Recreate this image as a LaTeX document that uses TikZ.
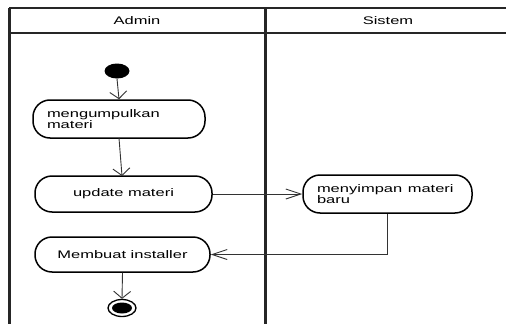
\documentclass[tikz,border=0pt]{standalone}
\usepackage{fontspec}
\setmainfont{Liberation Sans}
\usetikzlibrary{arrows.meta,shapes.geometric}
\newcommand{\wide}[1]{\scalebox{1.5}[1]{#1}}
\tikzset{
  lane/.style={line width=3pt, black!85},
  rule/.style={line width=1.9pt, black!85},
  action/.style={draw, line width=1.5pt, rounded corners=17pt, fill=white,
    font=\fontsize{11}{11.5}\selectfont, inner sep=0pt},
  flowv/.style={line width=0.9pt, black!80, -{Straight Barb[length=7pt,width=17pt,line width=0.9pt]}},
  flowh/.style={line width=0.9pt, black!80, -{Straight Barb[length=15pt,width=10pt,line width=0.9pt]}},
  lanetitle/.style={font=\fontsize{11}{13}\selectfont}
}
\begin{document}
\begin{tikzpicture}[x=1pt,y=-1pt]
\useasboundingbox (0,0) rectangle (506,324);
\fill[white] (0,0) rectangle (506,324);

% swimlane frame
\coordinate (tl) at (9,8);
\coordinate (tr) at (506,8);
\coordinate (hl) at (9,33);
\coordinate (hr) at (506,33);
\coordinate (bl) at (9,324);
\coordinate (dt) at (265,8);
\coordinate (db) at (265,324);
\draw[rule] (tl) -- (tr);
\draw[rule] (hl) -- (hr);
\draw[lane] (tl) -- (bl);
\draw[lane] (dt) -- (db);

\node[lanetitle] (admin) at (137,21) {\wide{Admin}};
\node[lanetitle] (sistem) at (388,21) {\wide{Sistem}};

% initial and final states
\node[ellipse, fill=black, minimum width=25pt, minimum height=15pt, inner sep=0pt] (start) at (117,71) {};
\node[ellipse, draw, line width=1.3pt, minimum width=28pt, minimum height=17pt, inner sep=0pt] (finish) at (122,308) {};
\node[ellipse, fill=black, minimum width=20pt, minimum height=11pt, inner sep=0pt] (finishdot) at (122,308) {};

% actions
\node[action, minimum width=172pt, minimum height=38pt, text width=144pt, align=left] (collect) at (119,119)
  {\wide{mengumpulkan}\\\wide{materi}};
\node[action, minimum width=177pt, minimum height=36pt, align=center] (update) at (123.5,194)
  {\wide{update materi}};
\node[action, minimum width=169pt, minimum height=38pt, text width=141pt, align=left] (store) at (387.5,194)
  {\wide{menyimpan materi}\\\wide{baru}};
\node[action, minimum width=175pt, minimum height=35pt, align=center] (build) at (122.5,254.5)
  {\wide{Membuat installer}};

% control flow
\coordinate (c1) at (119,138);
\coordinate (c2) at (122,176);
\draw[flowv] (start.south) -- (collect.north);
\draw[flowv] (c1) -- (c2);
\draw[flowh] (update.east) -- (store.west);
\coordinate (turn) at (store.south |- build.east);
\draw[flowh] (store.south) -- (turn) -- (build.east);
\draw[flowv] (build.south) -- (finish.north);
\end{tikzpicture}
\end{document}
